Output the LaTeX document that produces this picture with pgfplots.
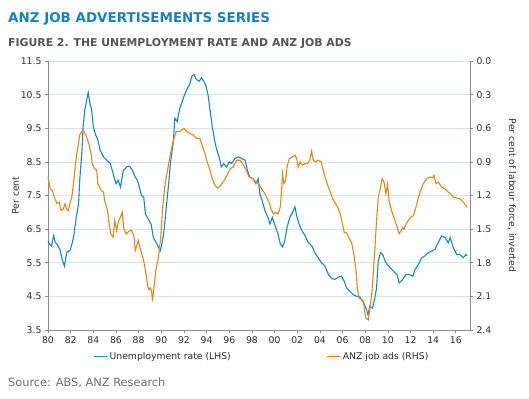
\documentclass[border=0pt]{standalone}
\usepackage{pgfplots}
\pgfplotsset{compat=1.18}
\usepackage{fontspec}
\setmainfont{DejaVu Sans}
\definecolor{ublue}{RGB}{24,134,200}
\definecolor{jorange}{RGB}{232,134,26}
\definecolor{ttlblue}{RGB}{26,128,196}
\definecolor{subgrey}{RGB}{85,85,85}
\definecolor{axgrey}{RGB}{140,140,140}
\definecolor{gridc}{RGB}{218,226,234}
\definecolor{txt}{RGB}{45,45,45}
\definecolor{srcgrey}{RGB}{110,110,110}
\begin{document}
\begin{tikzpicture}
\path[use as bounding box] (0,0) rectangle (529bp,-399bp);
\node[anchor=base west, inner sep=0pt, text=ttlblue, font=\fontsize{13.5}{15}\selectfont\bfseries] at (8bp,-22bp) {ANZ JOB ADVERTISEMENTS SERIES};
\node[anchor=base west, inner sep=0pt, text=subgrey, font=\fontsize{10.9}{12}\selectfont\bfseries] at (8bp,-46bp) {FIGURE 2. THE UNEMPLOYMENT RATE AND ANZ JOB ADS};
\node[anchor=base west, inner sep=0pt, text=srcgrey, font=\fontsize{11.4}{13}\selectfont] at (8bp,-386bp) {Source: ABS, ANZ Research};
\begin{axis}[
  at={(48bp,-330bp)}, anchor=south west,
  width=422bp, height=269bp, scale only axis,
  xmin=1980, xmax=2017.25, ymin=3.5, ymax=11.5,
  axis x line*=bottom, axis y line*=left,
  axis line style={axgrey, line width=0.8bp},
  tick style={axgrey, line width=0.7bp}, tick align=outside,
  major tick length=3bp,
  xtick={1980,1982,1984,1986,1988,1990,1992,1994,1996,1998,2000,2002,2004,2006,2008,2010,2012,2014,2016},
  xticklabels={80,82,84,86,88,90,92,94,96,98,00,02,04,06,08,10,12,14,16},
  ytick={3.5,4.5,5.5,6.5,7.5,8.5,9.5,10.5,11.5},
  yticklabel style={/pgf/number format/fixed, /pgf/number format/fixed zerofill, /pgf/number format/precision=1},
  /pgf/number format/assume math mode=true,
  ticklabel style={font=\fontsize{9.3}{11}\selectfont, text=txt},
  ymajorgrids, grid style={gridc, line width=0.7bp},
  ylabel={Per cent},
  ylabel style={at={(axis description cs:-0.077,0.5)}, anchor=center, font=\fontsize{9.3}{11}\selectfont, text=txt},
  legend columns=2,
  legend style={at={(axis description cs:0.507,-0.1)}, anchor=center, draw=none, fill=none,
    font=\fontsize{9.3}{11}\selectfont, text=txt,
    /tikz/every even column/.append style={column sep=94bp}},
  legend image code/.code={\draw[#1] (0bp,0bp) -- (13bp,0bp);},
  clip=false,
]
\addplot[ublue, line width=1.1bp] coordinates {
(1980.0,6.15) (1980.15,6.05) (1980.3,6.0) (1980.5,6.3) (1980.65,6.1) (1980.8,6.05) (1981.05,5.9) (1981.25,5.6) (1981.45,5.4) (1981.65,5.8) (1981.95,5.87) (1982.15,6.1) (1982.3,6.36) (1982.5,6.86) (1982.7,7.26) (1982.8,7.95) (1983.0,8.85) (1983.1,9.55) (1983.25,10.05) (1983.4,10.3) (1983.55,10.56) (1983.7,10.25) (1983.85,10.05) (1984.0,9.55) (1984.15,9.35) (1984.4,9.15) (1984.6,8.85) (1984.9,8.65) (1985.2,8.55) (1985.5,8.45) (1985.75,8.15) (1986.0,7.85) (1986.2,7.95) (1986.4,7.75) (1986.65,8.25) (1986.95,8.35) (1987.2,8.37) (1987.45,8.25) (1987.7,8.05) (1987.9,7.95) (1988.1,7.7) (1988.25,7.5) (1988.45,7.45) (1988.6,6.95) (1988.85,6.8) (1989.1,6.65) (1989.3,6.25) (1989.55,6.1) (1989.75,5.97) (1989.9,5.85) (1990.05,6.05) (1990.2,6.36) (1990.3,6.65) (1990.5,7.35) (1990.65,7.85) (1990.8,8.45) (1991.05,9.05) (1991.2,9.8) (1991.4,9.7) (1991.6,10.05) (1991.8,10.25) (1992.0,10.45) (1992.25,10.65) (1992.5,10.8) (1992.7,11.05) (1992.9,11.1) (1993.1,10.95) (1993.35,10.9) (1993.55,11.0) (1993.75,10.9) (1993.95,10.75) (1994.15,10.45) (1994.3,10.05) (1994.5,9.55) (1994.7,9.15) (1994.9,8.85) (1995.1,8.65) (1995.3,8.35) (1995.5,8.45) (1995.75,8.35) (1996.0,8.5) (1996.2,8.45) (1996.5,8.6) (1996.8,8.65) (1997.1,8.6) (1997.4,8.55) (1997.6,8.25) (1997.8,8.05) (1998.1,8.0) (1998.35,7.85) (1998.55,8.0) (1998.7,7.55) (1998.9,7.35) (1999.15,7.05) (1999.4,6.85) (1999.6,6.65) (1999.8,6.85) (2000.0,6.65) (2000.3,6.36) (2000.5,6.07) (2000.7,5.97) (2000.9,6.16) (2001.1,6.55) (2001.35,6.86) (2001.55,6.96) (2001.8,7.16) (2001.95,6.9) (2002.15,6.66) (2002.4,6.46) (2002.7,6.3) (2002.97,6.1) (2003.3,6.0) (2003.55,5.8) (2003.85,5.65) (2004.15,5.5) (2004.45,5.4) (2004.75,5.15) (2005.0,5.05) (2005.3,5.0) (2005.6,5.07) (2005.9,5.1) (2006.15,4.95) (2006.35,4.75) (2006.65,4.65) (2006.95,4.55) (2007.25,4.5) (2007.5,4.5) (2007.8,4.35) (2008.07,4.15) (2008.25,3.95) (2008.4,4.2) (2008.65,4.15) (2008.85,4.45) (2009.0,4.75) (2009.15,5.55) (2009.35,5.8) (2009.55,5.75) (2009.75,5.55) (2009.95,5.45) (2010.2,5.35) (2010.5,5.25) (2010.8,5.15) (2011.0,4.9) (2011.3,5.0) (2011.6,5.15) (2011.9,5.15) (2012.2,5.1) (2012.4,5.3) (2012.7,5.45) (2013.0,5.65) (2013.27,5.7) (2013.57,5.8) (2013.86,5.85) (2014.15,5.9) (2014.45,6.1) (2014.75,6.3) (2015.04,6.25) (2015.33,6.1) (2015.5,6.25) (2015.77,5.95) (2016.07,5.75) (2016.36,5.75) (2016.66,5.65) (2016.9,5.75) (2017.0,5.7)
};
\addlegendentry{Unemployment rate (LHS)}
\addlegendimage{jorange, line width=1.1bp}
\addlegendentry{ANZ job ads (RHS)}
\end{axis}
\begin{axis}[
  at={(48bp,-330bp)}, anchor=south west,
  width=422bp, height=269bp, scale only axis,
  xmin=1980, xmax=2017.25, ymin=0, ymax=2.4, y dir=reverse,
  axis x line=none, axis y line*=right,
  axis line style={axgrey, line width=0.8bp},
  tick style={axgrey, line width=0.7bp}, tick align=outside,
  major tick length=3bp,
  ytick={0,0.3,0.6,0.9,1.2,1.5,1.8,2.1,2.4},
  yticklabel style={/pgf/number format/fixed, /pgf/number format/fixed zerofill, /pgf/number format/precision=1},
  /pgf/number format/assume math mode=true,
  ticklabel style={font=\fontsize{9.3}{11}\selectfont, text=txt},
  ylabel={Per cent of labour force, inverted},
  ylabel style={at={(axis description cs:1.0995,0.5)}, anchor=center, rotate=180, font=\fontsize{9.3}{11}\selectfont, text=txt},
  clip=false,
]
\addplot[jorange, line width=1.1bp] coordinates {
(1980.0,1.035) (1980.2,1.14) (1980.4,1.155) (1980.55,1.215) (1980.8,1.272) (1981.0,1.26) (1981.15,1.332) (1981.35,1.32) (1981.5,1.275) (1981.65,1.32) (1981.8,1.335) (1981.95,1.26) (1982.1,1.215) (1982.25,1.095) (1982.4,0.945) (1982.5,0.855) (1982.7,0.735) (1982.8,0.66) (1983.0,0.624) (1983.2,0.63) (1983.4,0.675) (1983.6,0.735) (1983.8,0.825) (1983.9,0.915) (1984.1,0.96) (1984.3,0.975) (1984.4,1.095) (1984.7,1.155) (1984.9,1.17) (1985.0,1.245) (1985.25,1.332) (1985.4,1.452) (1985.55,1.542) (1985.75,1.572) (1985.9,1.422) (1986.05,1.512) (1986.25,1.422) (1986.4,1.392) (1986.55,1.35) (1986.7,1.5) (1986.9,1.542) (1987.2,1.512) (1987.4,1.512) (1987.6,1.572) (1987.7,1.692) (1987.97,1.602) (1988.1,1.662) (1988.25,1.71) (1988.45,1.785) (1988.65,1.905) (1988.8,2.01) (1988.9,2.04) (1989.05,2.025) (1989.15,2.055) (1989.23,2.145) (1989.35,2.025) (1989.5,1.875) (1989.75,1.755) (1989.95,1.575) (1990.1,1.335) (1990.3,1.125) (1990.5,1.005) (1990.7,0.885) (1990.9,0.78) (1991.1,0.705) (1991.3,0.63) (1991.6,0.63) (1991.8,0.615) (1992.0,0.6) (1992.25,0.63) (1992.5,0.645) (1992.8,0.66) (1993.1,0.69) (1993.4,0.69) (1993.65,0.765) (1993.85,0.825) (1994.05,0.9) (1994.3,0.975) (1994.5,1.05) (1994.75,1.11) (1995.0,1.134) (1995.25,1.11) (1995.55,1.065) (1995.8,1.02) (1996.1,0.96) (1996.35,0.945) (1996.65,0.885) (1996.95,0.885) (1997.25,0.93) (1997.5,0.975) (1997.75,1.035) (1998.05,1.05) (1998.35,1.08) (1998.6,1.095) (1998.85,1.14) (1999.15,1.185) (1999.45,1.245) (1999.7,1.32) (1999.9,1.365) (2000.1,1.35) (2000.3,1.365) (2000.5,1.305) (2000.6,1.185) (2000.7,1.005) (2000.83,1.095) (2000.98,1.065) (2001.1,0.945) (2001.3,0.87) (2001.5,0.861) (2001.8,0.84) (2001.95,0.87) (2002.1,0.945) (2002.25,0.9) (2002.45,0.93) (2002.7,0.915) (2002.9,0.915) (2003.1,0.885) (2003.27,0.804) (2003.4,0.885) (2003.6,0.9) (2003.85,0.885) (2004.1,0.9) (2004.3,0.975) (2004.5,1.05) (2004.75,1.125) (2004.97,1.185) (2005.2,1.245) (2005.5,1.29) (2005.8,1.365) (2006.0,1.455) (2006.15,1.53) (2006.35,1.53) (2006.55,1.575) (2006.8,1.62) (2007.0,1.725) (2007.2,1.875) (2007.3,2.025) (2007.45,2.115) (2007.7,2.13) (2007.85,2.145) (2007.95,2.235) (2008.07,2.295) (2008.27,2.31) (2008.42,2.205) (2008.57,2.085) (2008.7,1.905) (2008.86,1.665) (2009.0,1.425) (2009.15,1.215) (2009.3,1.155) (2009.5,1.05) (2009.66,1.08) (2009.83,1.185) (2009.98,1.095) (2010.1,1.245) (2010.25,1.305) (2010.42,1.365) (2010.63,1.425) (2010.83,1.485) (2011.0,1.542) (2011.16,1.515) (2011.3,1.485) (2011.43,1.5) (2011.6,1.455) (2011.8,1.425) (2012.0,1.395) (2012.25,1.38) (2012.48,1.305) (2012.7,1.215) (2012.9,1.155) (2013.13,1.095) (2013.42,1.05) (2013.72,1.035) (2013.95,1.041) (2014.07,1.02) (2014.25,1.095) (2014.45,1.08) (2014.75,1.125) (2015.04,1.14) (2015.33,1.17) (2015.54,1.185) (2015.77,1.215) (2016.07,1.221) (2016.36,1.23) (2016.66,1.26) (2016.9,1.29) (2017.0,1.305)
};
\end{axis}
\end{tikzpicture}
\end{document}
